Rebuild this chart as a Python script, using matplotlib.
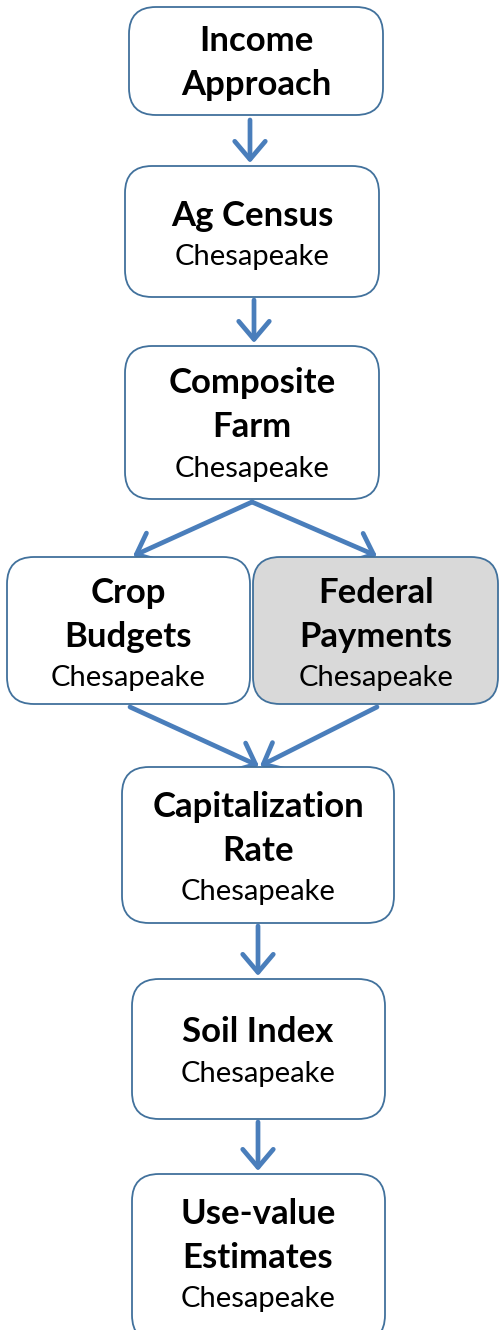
import matplotlib.pyplot as plt
from matplotlib.patches import FancyBboxPatch, FancyArrowPatch

plt.rcParams['font.family'] = ['Lato', 'DejaVu Sans']

# Flowchart nodes
titles = [['Income', 'Approach'], ['Ag Census'], ['Composite', 'Farm'],
          ['Crop', 'Budgets'], ['Federal', 'Payments'],
          ['Capitalization', 'Rate'], ['Soil Index'], ['Use-value', 'Estimates']]
subtitles = ['', 'Chesapeake', 'Chesapeake', 'Chesapeake', 'Chesapeake',
             'Chesapeake', 'Chesapeake', 'Chesapeake']
shaded = [False, False, False, False, True, False, False, False]
# edges as (from node, to node)
edges = [(0, 1), (1, 2), (2, 3), (2, 4), (3, 5), (4, 5), (5, 6), (6, 7)]

# box geometry in pixels: left, top, width, height
boxes = [(128, 6, 256, 110), (124, 165, 256, 133), (124, 345, 256, 155),
         (6, 556, 245, 149), (252, 556, 247, 149), (121, 766, 274, 158),
         (131, 978, 255, 142), (131, 1173, 255, 170)]
# text line centres
line_y = [[41, 85], [216, 257], [383, 427, 469], [593, 637, 678],
          [593, 637, 678], [807, 851, 892], [1032, 1074], [1214, 1258, 1299]]
text_x = [256, 252, 252, 128, 376, 258, 258, 258]
# arrow endpoints
arrows = {(0, 1): ((250, 120), (250, 163)), (1, 2): ((254, 300), (254, 343)),
          (2, 3): ((252, 502), (133, 556)), (2, 4): ((252, 502), (377, 556)),
          (3, 5): ((130, 707), (259, 766)), (4, 5): ((377, 707), (260, 766)),
          (5, 6): ((258, 926), (258, 976)), (6, 7): ((258, 1122), (258, 1171))}

edge_col = '#41719c'
arrow_col = '#4a7ebb'

fig = plt.figure(figsize=(5, 13.3), dpi=100)
ax = fig.add_axes([0, 0, 1, 1])
ax.set_xlim(0, 500)
ax.set_ylim(1330, 0)
ax.axis('off')

for i, (x, y, w, h) in enumerate(boxes):
    face = '#d9d9d9' if shaded[i] else 'white'
    ax.add_patch(FancyBboxPatch((x + 1, y + 1), w - 2, h - 2,
                                boxstyle='round,pad=0,rounding_size=27',
                                fc=face, ec=edge_col, lw=1.3, zorder=2))
    lines = titles[i] + ([subtitles[i]] if subtitles[i] else [])
    for j, t in enumerate(lines):
        bold = j < len(titles[i])
        ax.text(text_x[i], line_y[i][j], t, ha='center', va='center',
                fontsize=25 if bold else 21,
                fontweight='bold' if bold else 'normal', color='black', zorder=3)

for e in edges:
    start, end = arrows[e]
    ax.add_patch(FancyArrowPatch(start, end,
                                 arrowstyle='->,head_length=0.65,head_width=0.55',
                                 mutation_scale=20, lw=3.4, color=arrow_col,
                                 shrinkA=0, shrinkB=0, zorder=1))

fig.savefig('out.png', dpi=100)
